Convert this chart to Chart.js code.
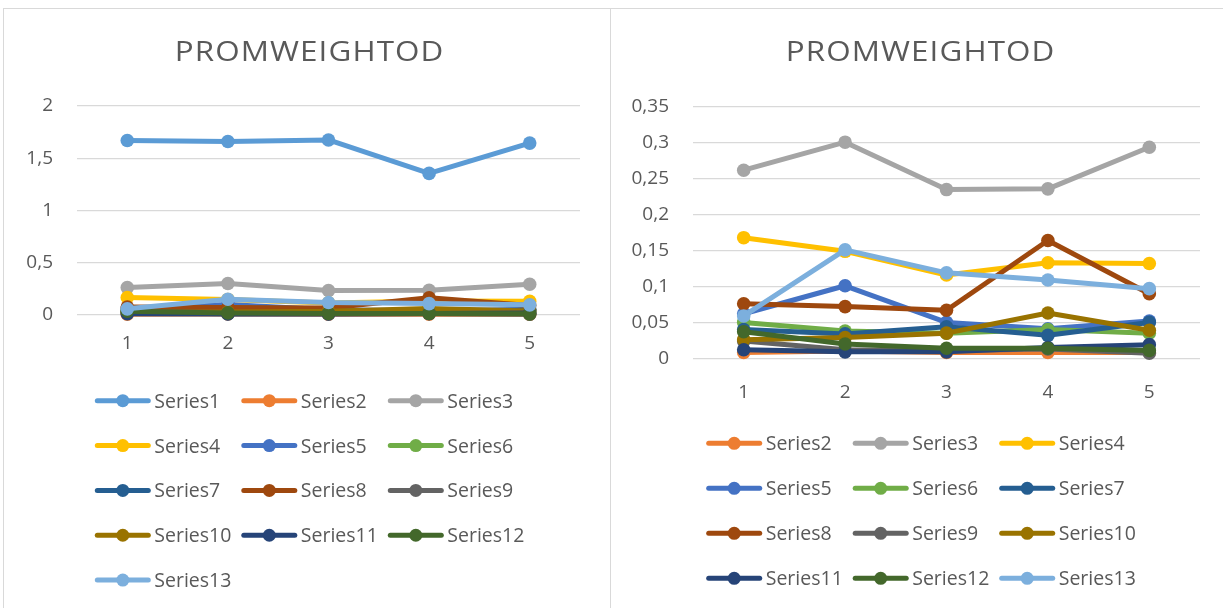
<!DOCTYPE html>
<html>
<head>
<meta charset="utf-8">
<title>PROMWEIGHTOD</title>
<script src="https://cdn.jsdelivr.net/npm/chart.js@4/dist/chart.umd.min.js"></script>
<style>
  html, body { margin: 0; padding: 0; background: #ffffff; width: 1223px; height: 608px; overflow: hidden; }
  .panel { position: absolute; top: 8px; border: 1px solid #d9d9d9; box-sizing: border-box; }
  #panelLeft { left: 3px; width: 608px; height: 620px; }
  #panelRight { left: 610px; width: 640px; height: 620px; }
  canvas { position: absolute; }
  #chartLeft { left: 4px; top: 9px; }
  #chartRight { left: 612px; top: 9px; }
</style>
</head>
<body>
<div class="panel" id="panelLeft"></div>
<div class="panel" id="panelRight"></div>
<canvas id="chartLeft" width="605" height="599"></canvas>
<canvas id="chartRight" width="611" height="599"></canvas>
<script>
// Categories and series values
const categories = ['1', '2', '3', '4', '5'];

const series1  = [1.670, 1.660, 1.675, 1.355, 1.645];
const series2  = [0.008, 0.010, 0.008, 0.008, 0.008];
const series3  = [0.262, 0.301, 0.235, 0.236, 0.294];
const series4  = [0.168, 0.149, 0.116, 0.133, 0.132];
const series5  = [0.062, 0.101, 0.050, 0.041, 0.052];
const series6  = [0.050, 0.038, 0.035, 0.040, 0.035];
const series7  = [0.040, 0.034, 0.044, 0.032, 0.050];
const series8  = [0.076, 0.072, 0.067, 0.164, 0.090];
const series9  = [0.024, 0.012, 0.011, 0.013, 0.007];
const series10 = [0.026, 0.029, 0.035, 0.063, 0.039];
const series11 = [0.012, 0.009, 0.009, 0.015, 0.019];
const series12 = [0.037, 0.020, 0.014, 0.014, 0.011];
const series13 = [0.059, 0.151, 0.119, 0.109, 0.097];

// Tick values of the two value axes
const leftTicks  = [0, 0.5, 1, 1.5, 2];
const rightTicks = [0, 0.05, 0.1, 0.15, 0.2, 0.25, 0.3, 0.35];

const titleText = 'PROMWEIGHTOD';

const allSeries = [series1, series2, series3, series4, series5, series6, series7,
                   series8, series9, series10, series11, series12, series13];
const seriesColors = ['#5b9bd5', '#ed7d31', '#a5a5a5', '#ffc000', '#4472c4', '#70ad47', '#255e91',
                      '#9e480e', '#636363', '#997300', '#264478', '#43682b', '#7cafdd'];

const textColor = '#595959';
const fontFamily = '"Open Sans", "DejaVu Sans", sans-serif';

// Title drawn slightly widened, centred on its panel
const panelTitle = {
  id: 'panelTitle',
  afterDraw(chart, args, opts) {
    const ctx = chart.ctx;
    ctx.save();
    ctx.font = '28px ' + fontFamily;
    ctx.fillStyle = textColor;
    ctx.textAlign = 'center';
    ctx.textBaseline = 'alphabetic';
    ctx.letterSpacing = opts.spacing + 'px';
    ctx.translate(opts.x, opts.y);
    ctx.scale(opts.stretch, 1);
    ctx.fillText(opts.text, opts.spacing / 2, 0);
    ctx.restore();
  }
};

// Legend laid out as a grid of three columns
const gridLegend = {
  id: 'gridLegend',
  afterDraw(chart, args, opts) {
    const ctx = chart.ctx;
    ctx.save();
    chart.data.datasets.forEach((ds, k) => {
      const col = k % opts.cols;
      const row = Math.floor(k / opts.cols);
      const x = opts.x + col * opts.dx;
      const y = opts.y + row * opts.dy;
      ctx.strokeStyle = ds.borderColor;
      ctx.lineWidth = 5;
      ctx.lineCap = 'round';
      ctx.beginPath();
      ctx.moveTo(x + 2, y);
      ctx.lineTo(x + opts.len - 2, y);
      ctx.stroke();
      ctx.fillStyle = ds.borderColor;
      ctx.beginPath();
      ctx.arc(x + opts.len / 2, y, 6.5, 0, Math.PI * 2);
      ctx.fill();
      ctx.fillStyle = textColor;
      ctx.font = '19.5px ' + fontFamily;
      ctx.textAlign = 'left';
      ctx.textBaseline = 'alphabetic';
      ctx.fillText(ds.label, x + opts.len + 4, y + 7);
    });
    ctx.restore();
  }
};

function makeDatasets(firstIndex) {
  const out = [];
  for (let i = firstIndex; i < allSeries.length; i++) {
    const c = seriesColors[i];
    out.push({
      label: 'Series' + (i + 1),
      data: allSeries[i],
      borderColor: c,
      backgroundColor: c,
      borderWidth: 5,
      borderJoinStyle: 'round',
      borderCapStyle: 'round',
      pointRadius: 6.8,
      pointBackgroundColor: c,
      pointBorderColor: c,
      pointBorderWidth: 0,
      tension: 0,
      clip: false,
      order: allSeries.length - 1 - i
    });
  }
  return out;
}

function makeChart(id, firstIndex, tickValues, g) {
  return new Chart(document.getElementById(id), {
    type: 'line',
    data: { labels: categories, datasets: makeDatasets(firstIndex) },
    options: {
      responsive: false,
      animation: false,
      events: [],
      layout: { padding: { top: g.top, left: 0, right: g.right, bottom: g.bottom } },
      scales: {
        x: {
          type: 'category',
          offset: true,
          grid: { display: false, drawTicks: false },
          border: { display: false },
          ticks: { color: textColor, font: { family: fontFamily, size: 19 }, padding: g.xPad, maxRotation: 0 },
          afterFit(s) { s.height = 40; }
        },
        y: {
          min: 0,
          max: tickValues[tickValues.length - 1],
          grid: { color: '#d9d9d9', lineWidth: 1.3, drawTicks: false },
          border: { display: false },
          afterBuildTicks(s) { s.ticks = tickValues.map(v => ({ value: v })); },
          ticks: {
            color: textColor,
            font: { family: fontFamily, size: 19 },
            padding: 24,
            callback: v => String(v).replace('.', ',')
          },
          afterFit(s) { s.width = g.yWidth; }
        }
      },
      plugins: {
        legend: { display: false },
        tooltip: { enabled: false },
        title: { display: false },
        panelTitle: { text: titleText, x: g.titleX, y: 52, spacing: 1, stretch: 1.12 },
        gridLegend: { cols: 3, x: g.legX, y: g.legY, dx: 146.5, dy: g.legDy, len: 55 }
      }
    },
    plugins: [panelTitle, gridLegend]
  });
}

makeChart('chartLeft', 0, leftTicks, {
  top: 97, right: 29, bottom: 253, yWidth: 73, xPad: 17,
  titleX: 305, legX: 91.3, legY: 391.7, legDy: 44.85
});

makeChart('chartRight', 1, rightTicks, {
  top: 98, right: 23, bottom: 209.7, yWidth: 81, xPad: 23,
  titleX: 308, legX: 94.7, legY: 434.3, legDy: 45
});
</script>
</body>
</html>
